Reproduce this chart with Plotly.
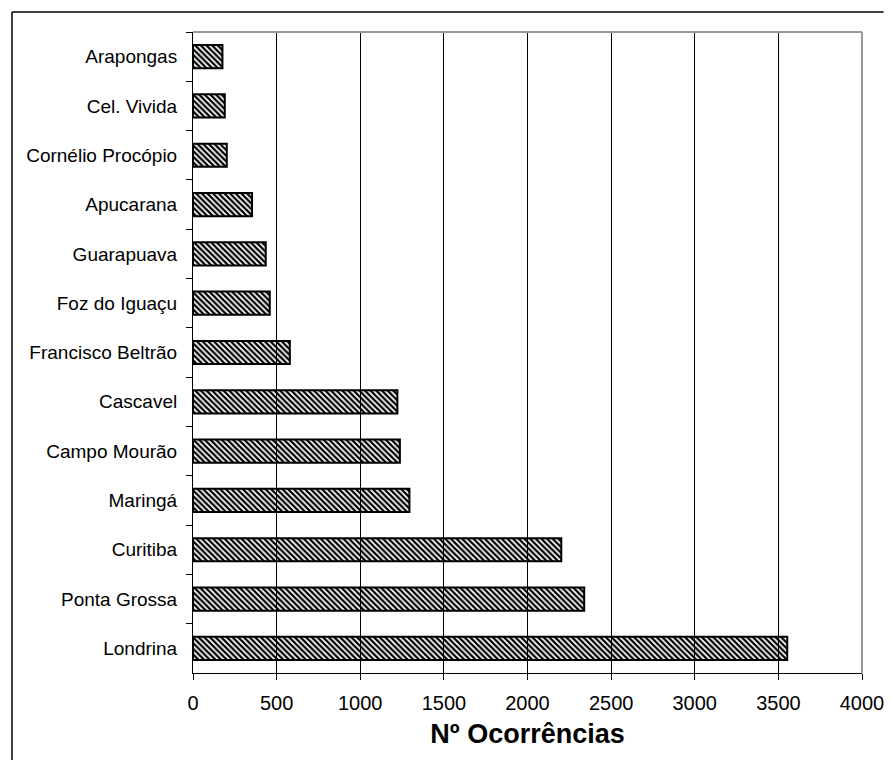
import plotly.graph_objects as go

# Occurrences per city (top to bottom as drawn)
cities = [
    "Arapongas", "Cel. Vivida", "Cornélio Procópio", "Apucarana", "Guarapuava",
    "Foz do Iguaçu", "Francisco Beltrão", "Cascavel", "Campo Mourão", "Maringá",
    "Curitiba", "Ponta Grossa", "Londrina",
]
occurrences = [176, 190, 202, 353, 435, 459, 579, 1222, 1237, 1294, 2202, 2339, 3553]
x_ticks = [0, 500, 1000, 1500, 2000, 2500, 3000, 3500, 4000]
x_title = "Nº Ocorrências"

FONT = "Liberation Sans, Arial, sans-serif"

fig = go.Figure(
    go.Bar(
        x=occurrences,
        y=cities,
        orientation="h",
        width=0.47,
        marker=dict(
            color="#b0b0b0",
            line=dict(color="black", width=2),
            pattern=dict(shape="\\", size=4, solidity=0.55,
                         fgcolor="#000000", fillmode="replace"),
        ),
        hoverinfo="x+y",
    )
)

# plot-area geometry in pixels (used for the outer frame lines)
W, H = 896, 761
L, R, T, B = 193, 23, 32, 88
pw, ph = W - L - R, H - T - B

def px_x(p):
    return (p - L) / pw

def px_y(p):
    return (H - B - p) / ph

fig.update_layout(
    width=W, height=H,
    margin=dict(l=L, r=R, t=T, b=B, pad=0),
    paper_bgcolor="white", plot_bgcolor="white",
    font=dict(family=FONT, color="black", size=18),
    showlegend=False,
    xaxis=dict(
        range=[0, 4000], tickvals=x_ticks, ticktext=[str(v) for v in x_ticks],
        showgrid=True, gridcolor="black", gridwidth=1,
        showline=True, linecolor="black", linewidth=1,
        ticks="outside", ticklen=6, tickcolor="black", tickwidth=1,
        tickfont=dict(size=20), ticklabelstandoff=6,
        zeroline=False,
        title=dict(text="<b>" + x_title + "</b>", font=dict(size=27), standoff=11),
        fixedrange=True,
    ),
    yaxis=dict(
        autorange="reversed", type="category",
        showline=True, linecolor="black", linewidth=1,
        ticks="outside", ticklen=6, tickcolor="black", tickwidth=1,
        tickson="boundaries", showgrid=False, zeroline=False,
        tickfont=dict(size=19), ticklabelstandoff=11,
        fixedrange=True,
    ),
    shapes=[
        # gray top and right edges of the plot area
        dict(type="line", xref="paper", yref="paper", x0=0, x1=1, y0=1, y1=1,
             line=dict(color="#999999", width=2), layer="above"),
        dict(type="line", xref="paper", yref="paper", x0=1, x1=1, y0=0, y1=1,
             line=dict(color="#999999", width=2), layer="above"),
        # outer chart frame: left and top edges (the rest runs off the page)
        dict(type="line", xref="paper", yref="paper",
             x0=px_x(9), x1=px_x(9), y0=px_y(H - 1), y1=px_y(12),
             line=dict(color="black", width=1.5), layer="above"),
        dict(type="line", xref="paper", yref="paper",
             x0=px_x(9), x1=px_x(W - 1), y0=px_y(12), y1=px_y(12),
             line=dict(color="black", width=1.5), layer="above"),
    ],
)

# keep the page exactly the size of the figure (no scrollbars)
page_css = (
    "document.documentElement.style.overflow='hidden';"
    "document.body.style.margin='0';"
    "document.body.style.overflow='hidden';"
)

fig.write_html("out.html", post_script=page_css)
